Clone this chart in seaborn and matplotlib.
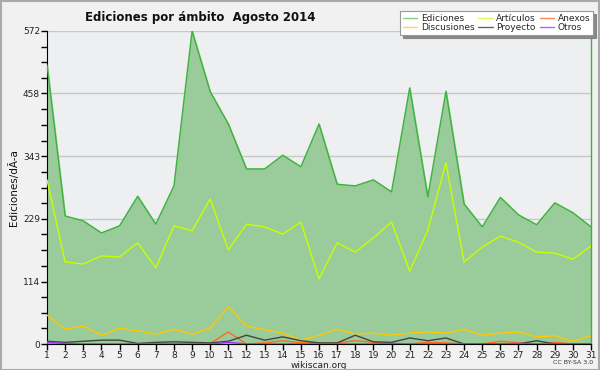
import numpy as np
import pandas as pd
import seaborn as sns
import matplotlib.pyplot as plt

days = list(range(1, 32))
ediciones = [510, 234, 225, 203, 216, 270, 219, 289, 572, 461, 402, 320, 320, 345, 324, 402,
             292, 289, 300, 278, 468, 269, 462, 256, 214, 268, 236, 218, 258, 240, 214]
articulos = [300, 150, 146, 161, 159, 185, 139, 216, 207, 265, 172, 219, 214, 201, 223, 119,
             185, 168, 194, 223, 133, 208, 331, 150, 177, 197, 186, 168, 166, 155, 179]
discusiones = [53, 27, 33, 16, 29, 24, 18, 27, 18, 29, 68, 33, 26, 20, 7, 16,
               27, 18, 20, 16, 20, 22, 20, 27, 16, 20, 22, 13, 15, 5, 15]
proyecto = [5, 3, 5, 7, 7, 1, 3, 4, 3, 2, 5, 16, 7, 13, 6, 2,
            2, 16, 4, 3, 11, 6, 11, 0, 0, 0, 0, 6, 0, 0, 0]
anexos = [0, 0, 0, 0, 0, 0, 0, 0, 0, 1, 22, 0, 2, 6, 2, 2,
          2, 6, 3, 0, 0, 3, 2, 0, 0, 5, 2, 0, 3, 0, 0]
otros = [3, 1, 0, 0, 0, 0, 0, 0, 0, 0, 3, 0, 0, 0, 0, 0,
         0, 0, 0, 1, 0, 0, 0, 0, 0, 0, 1, 0, 0, 0, 0]
yticks = [0, 114, 229, 343, 458, 572]

df = pd.DataFrame({"dia": days, "Ediciones": ediciones, "Discusiones": discusiones,
                   "Artículos": articulos, "Proyecto": proyecto,
                   "Anexos": anexos, "Otros": otros})
long = df.melt(id_vars="dia", var_name="ambito", value_name="n")

colores = {"Ediciones": "#3cb43c", "Discusiones": "#ffc800", "Artículos": "#c8ff00",
           "Proyecto": "#444444", "Anexos": "#ff6a22", "Otros": "#9933ff"}
leg_colores = {"Ediciones": "#88cc88", "Discusiones": "#ffd84a", "Artículos": "#d8ff55",
               "Proyecto": "#666666", "Anexos": "#ff8855", "Otros": "#aa66ff"}

sns.set_style("white")
plt.rcParams["font.family"] = ["DejaVu Sans"]

fig = plt.figure(figsize=(6, 3.7), dpi=100, facecolor="#f1f1f1")
ax = fig.add_axes([47/600, 26/370, 544/600, 313/370])
ax.set_facecolor("#eeeff1")

ax.fill_between(df["dia"], df["Ediciones"], color="#9acb9a", zorder=1)
sns.lineplot(data=long, x="dia", y="n", hue="ambito", palette=colores,
             hue_order=["Ediciones", "Artículos", "Discusiones", "Anexos", "Proyecto", "Otros"],
             linewidth=1, ax=ax, legend=False, zorder=3)

ax.set_xlim(1, 31)
ax.set_ylim(0, 572)
ax.set_xticks(days)
ax.set_yticks(yticks)
ax.set_yticks([v for a, b in zip(yticks[:-1], yticks[1:]) for v in np.linspace(a, b, 5)[1:-1]], minor=True)
ax.grid(axis="y", which="major", color="#c8c8c8", linewidth=1, zorder=0)
ax.set_axisbelow(True)
ax.tick_params(axis="both", which="major", labelsize=6.5, length=4, width=1, color="black",
               pad=1, labelcolor="#222222")
ax.tick_params(axis="y", which="minor", length=4, width=1, color="black", left=True)
ax.tick_params(axis="x", bottom=True)
ax.tick_params(axis="y", left=True)
ax.spines["top"].set_visible(False)
ax.spines["right"].set_color("#3cb43c")
ax.spines["right"].set_linewidth(1)
ax.spines["left"].set_color("black")
ax.spines["bottom"].set_color("black")

ax.set_xlabel("wikiscan.org", fontsize=6.5, labelpad=1, color="#222222")
ax.set_ylabel("Ediciones/dÃ-a", fontsize=7.5, labelpad=3, color="#111111")

fig.text(85/600, 1 - 17/370, "Ediciones por ámbito  Agosto 2014", fontsize=8.5,
         fontweight="bold", va="center", ha="left", color="#111111")
fig.text(593/600, 1 - 362/370, "CC BY-SA 3.0", fontsize=4.5, ha="right", va="center",
         color="#333333")

labels = ["Ediciones", "Discusiones", "Artículos", "Proyecto", "Anexos", "Otros"]
handles = [plt.Line2D([], [], color=leg_colores[k], linewidth=1) for k in labels]
leg = fig.legend(handles, labels, ncol=3, loc="upper right", bbox_to_anchor=(593/600, 1 - 11/370),
                 fontsize=6.5, frameon=True, fancybox=False,
                 shadow={"color": "#888888", "alpha": 1}, edgecolor="#999999",
                 handlelength=1.6, handletextpad=0.4, columnspacing=0.4, labelspacing=0.05,
                 borderpad=0.3, borderaxespad=0)
leg.get_frame().set_linewidth(0.8)

fig.patches.append(plt.Rectangle((0.001, 0.001), 0.997, 0.997, transform=fig.transFigure,
                                 fill=False, edgecolor="#aaaaaa", linewidth=1.5))
fig.savefig("out.png", dpi=100, facecolor=fig.get_facecolor())
